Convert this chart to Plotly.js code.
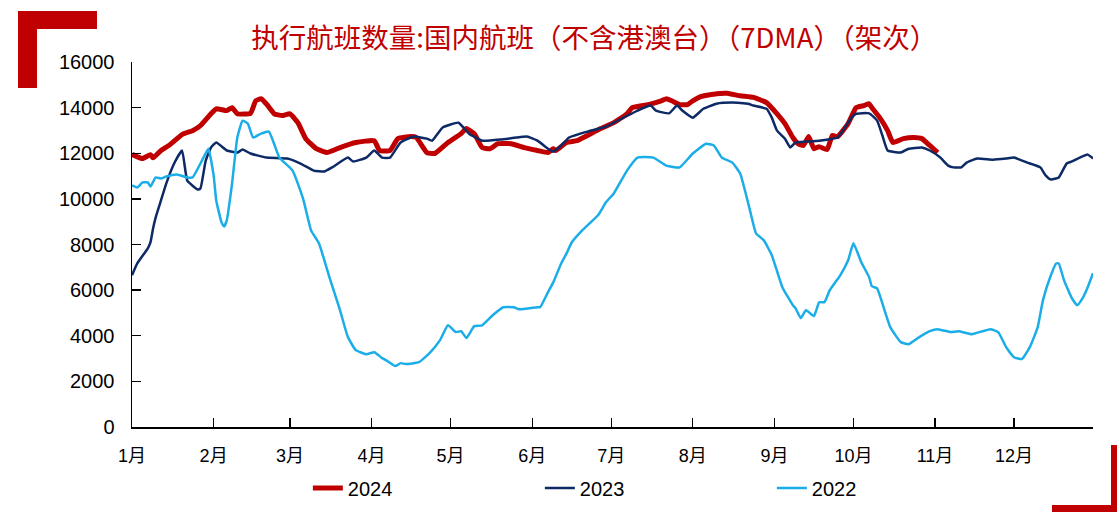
<!DOCTYPE html>
<html>
<head>
<meta charset="utf-8">
<script src="https://cdn.plot.ly/plotly-3.0.1.min.js"></script>
<style>
  html, body { margin: 0; padding: 0; background: #fff; }
  #wrap { position: relative; width: 1117px; height: 512px; overflow: hidden; }
  #chart { position: absolute; left: 0; top: 0; width: 1117px; height: 512px; }
  .deco { position: absolute; background: #C00000; }
</style>
</head>
<body>
<div id="wrap">
  <div id="chart"></div>
  <div class="deco" style="left:18px; top:11px; width:79px; height:18px;"></div>
  <div class="deco" style="left:18px; top:11px; width:19px; height:77px;"></div>
  <div class="deco" style="left:1111px; top:445px; width:6px; height:67px;"></div>
  <div class="deco" style="left:1052px; top:505px; width:65px; height:7px;"></div>
</div>
<script>
// ---- data (day of year, 0 = 1月1日) ----
const months = ['1月','2月','3月','4月','5月','6月','7月','8月','9月','10月','11月','12月'];
const monthDays = [31,29,31,30,31,30,31,31,30,31,30,31];

const day2024 = [0,4,7,8,11,14,19,23,26,30,32,36,38,40,45,47,49,51,54,57,60,63,66,70,74,79,85,92,94,98,101,106,108,112,115,120,125,127,130,133,136,139,144,149,154,158,160,161,165,169,173,178,183,188,190,196,201,203,205,208,211,213,216,222,226,231,236,241,245,248,251,253,255,257,259,261,264,266,268,272,275,278,280,281,284,287,289,293,297,300,303,306];
const val2024 = [11950,11770,11940,11800,12120,12340,12820,12990,13210,13730,13950,13870,14000,13730,13750,14300,14390,14170,13730,13650,13730,13340,12640,12200,12030,12250,12470,12550,12120,12120,12640,12730,12690,12030,11990,12470,12860,13080,12860,12250,12200,12420,12420,12250,12120,12030,12200,12120,12470,12550,12780,13080,13340,13730,14000,14130,14300,14390,14300,14130,14130,14300,14480,14610,14630,14520,14450,14220,13730,13300,12690,12420,12340,12730,12200,12290,12160,12780,12730,13300,14000,14090,14170,14000,13560,12990,12470,12640,12690,12640,12340,12030];

const day2023 = [0,2,6,7,8,9,11,13,16,19,21,25,26,28,30,32,36,40,42,45,51,59,64,69,73,76,82,84,89,92,95,98,102,107,112,114,118,124,128,133,140,146,150,154,158,160,163,166,173,180,186,192,197,199,204,207,209,213,217,222,228,234,236,241,243,245,248,250,252,256,261,268,270,273,275,280,283,285,287,292,295,300,303,307,310,312,315,317,321,327,332,335,340,345,347,349,352,355,357,360,363,365];
const val2023 = [6650,7170,7830,8090,8700,9190,9930,10670,11550,12120,10800,10410,10460,11680,12250,12470,12120,12030,12160,11990,11810,11770,11550,11240,11200,11380,11810,11640,11810,12120,11810,11810,12470,12730,12640,12550,13130,13340,12860,12550,12600,12690,12730,12550,12200,12070,12340,12690,12950,13170,13520,13870,14090,13870,13750,14090,13870,13560,13950,14170,14220,14170,14090,13950,13560,12990,12640,12250,12470,12510,12550,12690,12990,13520,13730,13750,13430,12780,12120,12030,12200,12250,12120,11810,11460,11380,11380,11590,11770,11720,11770,11810,11590,11380,11030,10850,10940,11550,11640,11810,11940,11770];

const day2022 = [0,2,4,6,7,9,11,13,17,21,23,26,29,31,32,34,35,36,38,40,42,44,46,49,52,56,61,65,68,71,75,79,82,85,89,92,95,97,100,102,104,109,113,117,120,123,125,127,130,133,137,141,145,147,154,155,158,160,163,165,167,171,177,180,183,188,192,198,203,208,213,218,221,224,228,231,235,237,240,243,247,251,252,254,256,259,261,263,265,269,272,274,277,280,281,283,285,288,292,295,299,303,306,311,314,319,326,329,332,335,338,341,344,346,349,351,352,354,357,359,361,363,365];
const val2022 = [10590,10500,10720,10720,10540,10940,10890,10980,11070,10940,10940,11550,12200,11030,9930,8970,8790,9060,10670,12690,13430,13300,12690,12860,12950,11810,11240,10000,8620,8050,6560,5120,3940,3370,3190,3280,3020,2890,2670,2800,2760,2840,3240,3810,4460,4160,4200,3900,4420,4460,4900,5250,5250,5160,5250,5250,5910,6340,7170,7600,8090,8620,9280,9850,10240,11240,11810,11810,11460,11380,11990,12420,12340,11810,11590,11110,9360,8490,8180,7530,6130,5340,5210,4770,5120,4860,5470,5470,5990,6650,7310,8050,7220,6560,6170,6080,5420,4380,3720,3630,3940,4200,4290,4160,4200,4070,4290,4160,3500,3060,2980,3500,4380,5560,6650,7170,7170,6430,5640,5340,5640,6130,6740];

const yTicks = [0,2000,4000,6000,8000,10000,12000,14000,16000];

// ---- build ----
const monthStarts = [];
let acc = 0;
for (let i = 0; i < monthDays.length; i++) { monthStarts.push(acc); acc += monthDays[i]; }

const fontLat = 'Liberation Sans, Arial, "Noto Sans CJK SC", sans-serif';

const traces = [
  { x: day2024, y: val2024, name: '2024', type: 'scatter', mode: 'lines',
    line: { color: '#C00000', width: 5, shape: 'spline', smoothing: 0.4 } },
  { x: day2023, y: val2023, name: '2023', type: 'scatter', mode: 'lines',
    line: { color: '#0D2A66', width: 2.5, shape: 'spline', smoothing: 0.4 } },
  { x: day2022, y: val2022, name: '2022', type: 'scatter', mode: 'lines',
    line: { color: '#1AADE8', width: 2.5, shape: 'spline', smoothing: 0.4 } }
];

const layout = {
  width: 1117, height: 512,
  paper_bgcolor: 'rgba(0,0,0,0)', plot_bgcolor: '#fff',
  margin: { l: 132, r: 24, t: 62, b: 85, autoexpand: false },
  title: {
    text: '执行航班数量:国内航班（不含港澳台）（7DMA）（架次）',
    font: { family: '"Noto Sans CJK SC", sans-serif', size: 27.5, color: '#C00000' },
    xref: 'container', yref: 'container', x: 0.532, xanchor: 'center', y: 0.926, yanchor: 'middle'
  },
  xaxis: {
    range: [0, 365], tickmode: 'array', tickvals: monthStarts, ticktext: months,
    showgrid: false, zeroline: false, showline: true, linecolor: '#000', linewidth: 1.5,
    ticks: 'inside', ticklen: 9, tickwidth: 1.3, tickcolor: '#000',
    tickfont: { family: fontLat, size: 18, color: '#000' }, ticklabelstandoff: 12,
    fixedrange: true, automargin: false
  },
  yaxis: {
    range: [0, 16000], tickmode: 'array', tickvals: yTicks, ticktext: yTicks.map(String),
    showgrid: false, zeroline: false, showline: true, linecolor: '#000', linewidth: 1.5,
    ticks: 'inside', ticklen: 9, tickwidth: 1.3, tickcolor: '#000',
    tickfont: { family: fontLat, size: 20, color: '#000' }, ticklabelstandoff: 12,
    fixedrange: true, automargin: false
  },
  showlegend: true,
  legend: {
    orientation: 'h', x: 0.183, xanchor: 'left', y: -0.167, yanchor: 'middle',
    entrywidth: 187, entrywidthmode: 'pixels',
    font: { family: fontLat, size: 20, color: '#000' }, bgcolor: 'rgba(0,0,0,0)'
  }
};

Plotly.newPlot('chart', traces, layout, { displayModeBar: false, staticPlot: true });
</script>
</body>
</html>
